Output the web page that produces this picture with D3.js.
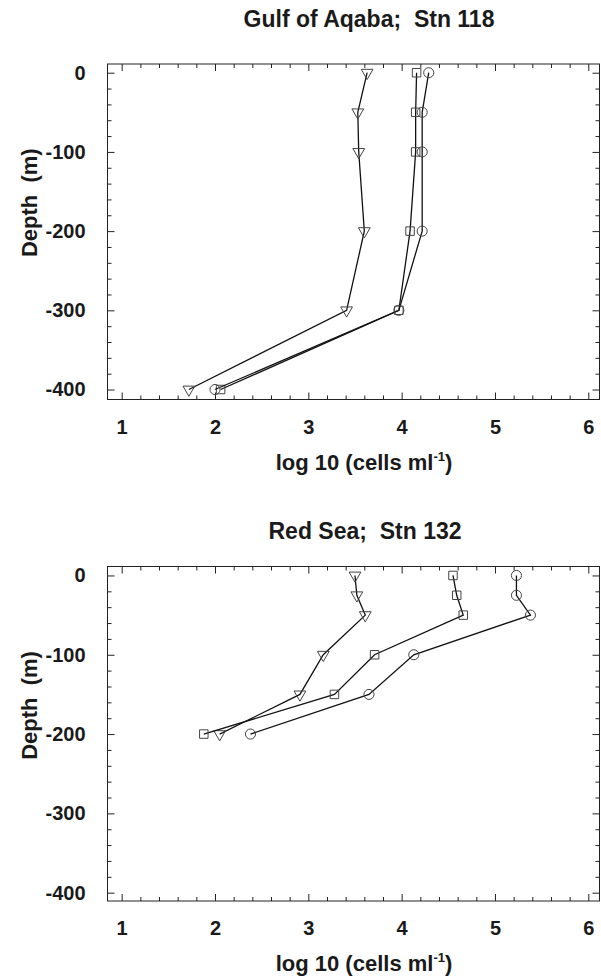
<!DOCTYPE html>
<html>
<head>
<meta charset="utf-8">
<script src="https://cdn.jsdelivr.net/npm/d3@7"></script>
<style>
    body { margin: 0; background: #fff; }
    text { font-family: "Liberation Sans", Arial, Helvetica, sans-serif; font-weight: bold; fill: #1a1a1a; }
</style>
</head>
<body>
<div id="chart"></div>
<script>

// Gulf of Aqaba, station 118
var aqabaDepth = [0, -50, -100, -200, -300, -400];
var aqabaCircle = [4.29, 4.22, 4.22, 4.22, 3.97, 2.00];
var aqabaSquare = [4.16, 4.15, 4.15, 4.09, 3.97, 2.06];
var aqabaTriangle = [3.63, 3.53, 3.54, 3.60, 3.41, 1.72];

// Red Sea, station 132
var redSeaDepth = [0, -25, -50, -100, -150, -200];
var redSeaCircle = [5.23, 5.23, 5.38, 4.13, 3.65, 2.38];
var redSeaSquare = [4.55, 4.59, 4.66, 3.71, 3.28, 1.88];
var redSeaTriangle = [3.50, 3.52, 3.61, 3.16, 2.91, 2.05];

var xTicks = [1, 2, 3, 4, 5, 6];
var yTicks = [0, -100, -200, -300, -400];

var width = 601;
var height = 976;

var svg = d3.select("#chart")
    .append("svg")
    .attr("width", width)
    .attr("height", height);

//minor ticks every 0.2 on x and every 20 m on depth
var xMinor = d3.range(1, 6.001, 0.2).filter(function(v) {
    return Math.abs(v - Math.round(v)) > 0.01;
});
var yMinor = d3.range(-400, 0.1, 20).filter(function(v) {
    return v % 100 !== 0;
});

function panel(opts) {

    var left = 107.5, right = 599.5;
    var top = opts.top, bottom = opts.bottom;

    var x = d3.scaleLinear().domain([0.848, 6.12]).range([left, right]);
    var y = d3.scaleLinear().domain([opts.yMax, opts.yMin]).range([top, bottom]);

    var g = svg.append("g");

    //ticks point into the plot on all four sides, plain hyphen for the minus sign
    function ticks(axis, values, size, labels) {
        return axis.tickValues(values).tickSize(-size)
            .tickFormat(labels ? function(d) { return String(d); } : "");
    }

    var gx = g.append("g").attr("transform", "translate(0," + bottom + ")")
        .call(ticks(d3.axisBottom(x), xTicks, 7, true).tickPadding(20));
    g.append("g").attr("transform", "translate(0," + bottom + ")")
        .call(ticks(d3.axisBottom(x), xMinor, 4, false));
    g.append("g").attr("transform", "translate(0," + top + ")")
        .call(ticks(d3.axisTop(x), xTicks, 7, false));
    g.append("g").attr("transform", "translate(0," + top + ")")
        .call(ticks(d3.axisTop(x), xMinor, 4, false));

    var gy = g.append("g").attr("transform", "translate(" + left + ",0)")
        .call(ticks(d3.axisLeft(y), yTicks, 7, true).tickPadding(22));
    g.append("g").attr("transform", "translate(" + left + ",0)")
        .call(ticks(d3.axisLeft(y), yMinor, 4, false));
    g.append("g").attr("transform", "translate(" + right + ",0)")
        .call(ticks(d3.axisRight(y), yTicks, 7, false));
    g.append("g").attr("transform", "translate(" + right + ",0)")
        .call(ticks(d3.axisRight(y), yMinor, 4, false));

    g.selectAll(".domain").remove();
    g.selectAll(".tick line").attr("stroke", "#222").attr("stroke-width", 1);

    gx.selectAll(".tick text").style("font-size", "20px");
    gy.selectAll(".tick text").style("font-size", "20px");

    //frame
    g.append("rect")
        .attr("x", left).attr("y", top)
        .attr("width", right - left).attr("height", bottom - top)
        .attr("fill", "none").attr("stroke", "#222").attr("stroke-width", 1);

    //profiles
    var line = d3.line()
        .x(function(d) { return x(d.v); })
        .y(function(d) { return y(d.z); });

    var shapes = {
        circle: d3.symbol().type(d3.symbolCircle).size(80),
        square: d3.symbol().type(d3.symbolSquare).size(72),
        triangle: d3.symbol().type(d3.symbolTriangle).size(60)
    };

    opts.series.forEach(function(s) {
        var pts = s.values.map(function(v, i) {
            return { v: v, z: opts.depth[i] };
        });

        g.append("path")
            .datum(pts)
            .attr("d", line)
            .attr("fill", "none")
            .attr("stroke", "#111")
            .attr("stroke-width", 1.3);

        g.selectAll(null)
            .data(pts)
            .enter()
            .append("path")
            .attr("d", shapes[s.shape])
            .attr("transform", function(d) {
                var r = s.shape === "triangle" ? " rotate(180)" : "";
                return "translate(" + x(d.v) + "," + y(d.z) + ")" + r;
            })
            .attr("fill", "none")
            .attr("stroke", "#444")
            .attr("stroke-width", 1);
    });

    //title
    g.append("text")
        .attr("x", opts.titleX)
        .attr("y", opts.titleY)
        .attr("text-anchor", "middle")
        .style("font-size", "23px")
        .attr("xml:space", "preserve")
        .text(opts.title);

    //y axis label
    g.append("text")
        .attr("transform", "translate(37," + (y(0) + 130) + ") rotate(-90)")
        .attr("text-anchor", "middle")
        .style("font-size", "22px")
        .attr("xml:space", "preserve")
        .text("Depth  (m)");

    //x axis label with superscript
    var xl = g.append("text")
        .attr("x", 364)
        .attr("y", bottom + 70)
        .attr("text-anchor", "middle")
        .style("font-size", "22px");
    xl.append("tspan").text("log 10 (cells ml");
    xl.append("tspan").attr("dy", -9).style("font-size", "13px").text("-1");
    xl.append("tspan").attr("dy", 9).text(")");
}

panel({
    top: 64, bottom: 399.5, yMax: 11, yMin: -412.6,
    depth: aqabaDepth,
    series: [
        { shape: "triangle", values: aqabaTriangle },
        { shape: "square", values: aqabaSquare },
        { shape: "circle", values: aqabaCircle }
    ],
    title: "Gulf of Aqaba;  Stn 118", titleX: 369, titleY: 27
});

panel({
    top: 566.5, bottom: 901, yMax: 11.3, yMin: -410.5,
    depth: redSeaDepth,
    series: [
        { shape: "triangle", values: redSeaTriangle },
        { shape: "square", values: redSeaSquare },
        { shape: "circle", values: redSeaCircle }
    ],
    title: "Red Sea;  Stn 132", titleX: 365, titleY: 539
});

</script>
</body>
</html>
